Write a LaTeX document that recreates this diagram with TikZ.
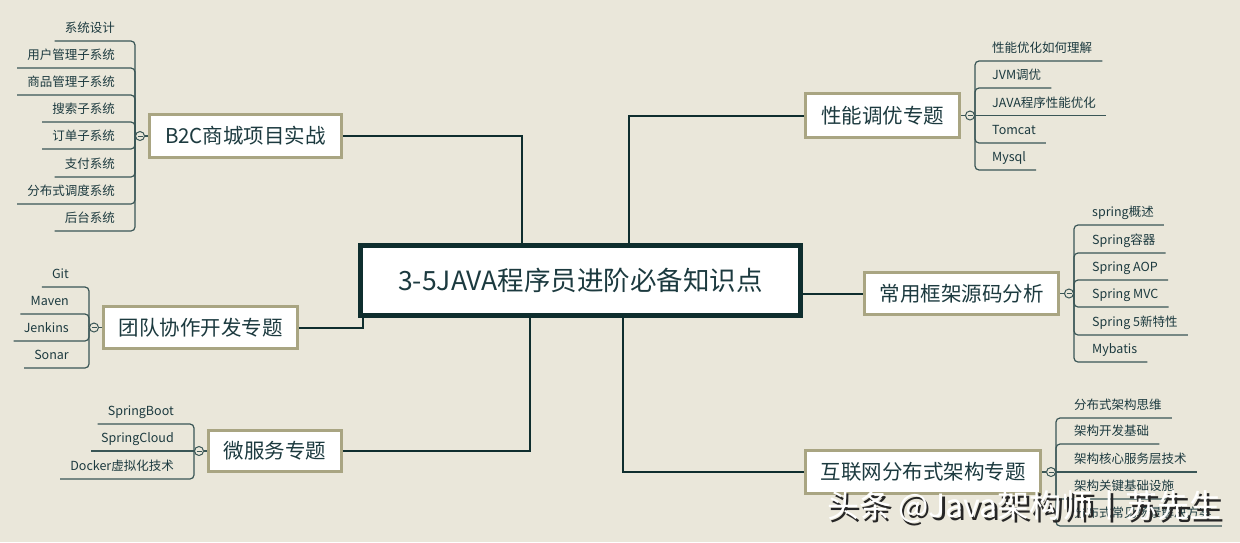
\documentclass[tikz,border=0pt]{standalone}
\usepackage{fontspec}
\setmainfont{Noto Sans CJK SC}
\usepackage{xcolor}
\usetikzlibrary{positioning,calc}
\definecolor{paper}{HTML}{EAE7DA}
\definecolor{olive}{HTML}{A9A582}
\definecolor{hubline}{HTML}{0F2E2E}
\definecolor{twigc}{HTML}{3A5656}
\definecolor{ink}{HTML}{1C3A3F}
\tikzset{
  hub/.style={draw=hubline, line width=5pt, fill=white, minimum width=440pt, minimum height=70pt, font=\fontsize{26.5}{30}\selectfont, text=ink},
  topic/.style={draw=olive, line width=3pt, fill=white, inner sep=2pt, font=\fontsize{20.5}{24}\selectfont, text=ink},
  leaf/.style={inner xsep=10pt, inner ysep=5pt, text height=10pt, text depth=3pt, font=\fontsize{12.5}{15}\selectfont, text=ink},
  knob/.style={circle, draw=twigc, fill=paper, line width=1pt, minimum size=9pt, inner sep=0pt,
    path picture={\draw[twigc, line width=0.8pt] ([xshift=-2.5pt]path picture bounding box.center) -- ([xshift=2.5pt]path picture bounding box.center);}},
  trunk/.style={draw=hubline, line width=2pt},
  twig/.style={draw=twigc, line width=1.2pt, rounded corners=4pt},
  stamp/.style={anchor=west, inner sep=0pt, font=\fontsize{32}{36}\selectfont}
}
\begin{document}
\begin{tikzpicture}[x=1pt,y=-1pt]
  \fill[paper] (0,0) rectangle (1240,542);

  % centre and main topics
  \node[hub] (hub) at (580.5,280.5) {3-5JAVA程序员进阶必备知识点};
  \node[topic, minimum width=192pt, minimum height=43pt] (mall) at (245.5,136) {B2C商城项目实战};
  \node[topic, minimum width=194pt, minimum height=42pt] (team) at (200.5,327.5) {团队协作开发专题};
  \node[topic, minimum width=133pt, minimum height=41pt] (micro) at (275,451) {微服务专题};
  \node[topic, minimum width=154pt, minimum height=44pt] (perf) at (882.5,115.5) {性能调优专题};
  \node[topic, minimum width=194pt, minimum height=42pt] (frame) at (961.5,293.5) {常用框架源码分析};
  \node[topic, minimum width=235pt, minimum height=43pt] (net) at (923,472) {互联网分布式架构专题};

  \draw[trunk] (mall.east) -| ([xshift=-58.5pt]hub.north);
  \draw[trunk] (perf.west) -| ([xshift=48.5pt]hub.north);
  \draw[trunk] ([xshift=-217.5pt]hub.south) |- (team.east);
  \draw[trunk] (micro.east) -| ([xshift=-50.5pt]hub.south);
  \draw[trunk] (net.west) -| ([xshift=42.5pt]hub.south);
  \draw[trunk] (hub.east |- frame.west) -- (frame.west);

  % collapse knobs
  \node[knob, left=3pt of mall] (mallk) {};
  \node[knob, left=3pt of team] (teamk) {};
  \node[knob, left=3pt of micro] (microk) {};
  \node[knob, right=4pt of perf] (perfk) {};
  \node[knob, right=4pt of frame] (framek) {};
  \node[knob, right=4pt of net] (netk) {};

  % B2C
  \node[leaf, anchor=south east] (m1) at (125,41) {系统设计};
  \node[leaf, anchor=south east] (m2) at (125,68) {用户管理子系统};
  \node[leaf, anchor=south east] (m3) at (125,95) {商品管理子系统};
  \node[leaf, anchor=south east] (m4) at (125,122) {搜索子系统};
  \node[leaf, anchor=south east] (m5) at (125,149) {订单子系统};
  \node[leaf, anchor=south east] (m6) at (125,177) {支付系统};
  \node[leaf, anchor=south east] (m7) at (125,204) {分布式调度系统};
  \node[leaf, anchor=south east] (m8) at (125,231) {后台系统};

  % team
  \node[leaf, anchor=south east] (t1) at (79,287) {Git};
  \node[leaf, anchor=south east] (t2) at (79,314) {Maven};
  \node[leaf, anchor=south east] (t3) at (79,341) {Jenkins};
  \node[leaf, anchor=south east] (t4) at (79,368) {Sonar};

  % micro services
  \node[leaf, anchor=south east] (s1) at (184,424) {SpringBoot};
  \node[leaf, anchor=south east] (s2) at (184,451) {SpringCloud};
  \node[leaf, anchor=south east] (s3) at (184,479) {Docker虚拟化技术};

  % performance
  \node[leaf, anchor=south west] (p1) at (982,61) {性能优化如何理解};
  \node[leaf, anchor=south west] (p2) at (982,88) {JVM调优};
  \node[leaf, anchor=south west] (p3) at (982,115.5) {JAVA程序性能优化};
  \node[leaf, anchor=south west] (p4) at (982,143) {Tomcat};
  \node[leaf, anchor=south west] (p5) at (982,170) {Mysql};

  % frameworks
  \node[leaf, anchor=south west] (f1) at (1082,225) {spring概述};
  \node[leaf, anchor=south west] (f2) at (1082,253) {Spring容器};
  \node[leaf, anchor=south west] (f3) at (1082,280) {Spring AOP};
  \node[leaf, anchor=south west] (f4) at (1082,307) {Spring MVC};
  \node[leaf, anchor=south west] (f5) at (1082,335) {Spring 5新特性};
  \node[leaf, anchor=south west] (f6) at (1082,362) {Mybatis};

  % distributed
  \node[leaf, anchor=south west] (n1) at (1064,418) {分布式架构思维};
  \node[leaf, anchor=south west] (n2) at (1064,444) {架构开发基础};
  \node[leaf, anchor=south west] (n3) at (1064,472) {架构核心服务层技术};
  \node[leaf, anchor=south west] (n4) at (1064,499) {架构关键基础设施};
  \node[leaf, anchor=south west] (n5) at (1064,526) {分布式常见场景解决方案};

  \draw[twig] (mall) -- (mallk);
  \draw[twig] (team) -- (teamk);
  \draw[twig] (micro) -- (microk);
  \draw[twig] (perf) -- (perfk);
  \draw[twig] (frame) -- (framek);
  \draw[twig] (net) -- (netk);
  \foreach \i in {1,...,8} \draw[twig] (mallk.west) |- (m\i.south west);
  \foreach \i in {1,...,4} \draw[twig] (teamk.west) |- (t\i.south west);
  \foreach \i in {1,3} \draw[twig] (microk.west) |- (s\i.south west);
  \draw[twig] (microk.west) -- (s2.south west);
  \foreach \i in {1,2,4,5} \draw[twig] (perfk.east) |- (p\i.south east);
  \draw[twig] (perfk.east) -- (p3.south east);
  \foreach \i in {1,...,6} \draw[twig] (framek.east) |- (f\i.south east);
  \foreach \i in {1,2,4,5} \draw[twig] (netk.east) |- (n\i.south east);
  \draw[twig] (netk.east) -- (n3.south east);

  % watermark
  \node[stamp, text=black!85] (wmshade) at (829.5,509.5) {头条 @Java架构师丨苏先生};
  \node[stamp, text=white] (wm) at (827,507) {头条 @Java架构师丨苏先生};
\end{tikzpicture}
\end{document}
